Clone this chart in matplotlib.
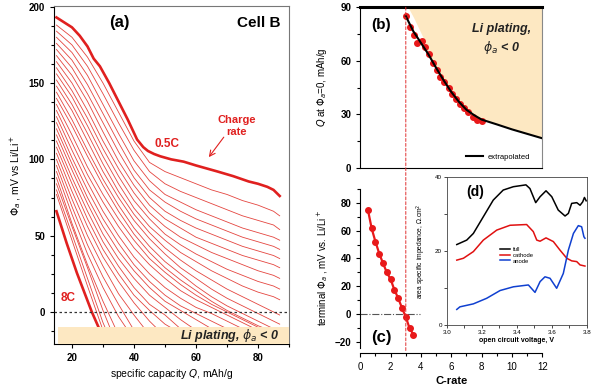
import matplotlib
matplotlib.use("Agg")
import matplotlib.pyplot as plt
from matplotlib.patches import ConnectionPatch
from matplotlib.ticker import MultipleLocator, FormatStrFormatter

plt.rcParams['font.family'] = ['Liberation Sans', 'DejaVu Sans']
plt.rcParams['mathtext.fontset'] = 'dejavusans'

RED = '#e0201f'
BEIGE = '#fde8c2'

# (a) anode potential vs specific capacity
# 0.5C (thick, top) and 8C (thick, bottom) read at their own points
q_top = [15, 20, 22.5, 25, 27, 29, 32, 35, 38, 41, 43, 44.5, 46.5, 48.5,
         52, 56, 60, 67, 72, 77, 80, 83, 85, 87]
phi_top = [193, 186.5, 181, 174, 166, 161, 150, 138, 126, 113, 108, 105.5, 103.5, 102,
           100, 98.5, 96, 92, 89, 85.5, 84, 82, 80, 76]
q_8c = [15, 18.3, 21.6, 26.4, 28.5, 30]
phi_8c = [66, 45, 25.5, 0, -9.7, -16]

# thin curves 0.75C ... 7.75C (step 0.25C) on a common capacity grid
q_grid = [15, 20, 25, 30, 35, 40, 45, 50, 55, 60, 65, 70, 75, 80, 85, 87]
phi_rows = [
    [188, 180, 167, 150, 131, 112, 98, 92, 88, 84, 80, 77, 73, 70, 66, 63],
    [184, 175, 161, 143, 124, 106, 92, 84, 79, 75, 71, 67, 63, 60, 57, 54],
    [180, 170, 155, 136, 117, 99, 86, 77, 72, 67, 63, 59, 55, 52, 49, 47],
    [176, 165, 149, 130, 111, 93, 80, 72, 66, 61, 57, 53, 49, 46, 43, 41],
    [172, 160, 143, 124, 105, 88, 75, 66, 60, 55, 51, 47, 43, 40, 37, 35],
    [168, 155, 138, 118, 99, 83, 70, 61, 55, 49, 45, 41, 37, 34, 31, 29],
    [164, 150, 132, 112, 94, 78, 65, 56, 49, 44, 39, 35, 31, 27, 24, 22],
    [160, 145, 127, 107, 89, 73, 61, 51, 44, 38, 33, 28, 24, 20, 17, 15],
    [156, 141, 122, 102, 84, 68, 56, 47, 39, 33, 27, 22, 17, 13, 10, 8],
    [152, 136, 117, 97, 79, 64, 52, 42, 34, 27, 21, 15, 10, 5, 0, -2],
    [148, 132, 112, 92, 75, 60, 48, 38, 29, 22, 15, 9, 4, -1, -6, -8],
    [144, 126, 106, 87, 70, 55, 43, 33, 25, 17, 10, 4, -1, -6, -11],
    [140, 122, 102, 83, 66, 51, 39, 29, 21, 14, 7, 1, -4, -9, -13],
    [136, 116, 95, 77, 61, 47, 35, 26, 18, 11, 5, 0, -5, -10, -14],
    [132, 111, 90, 72, 56, 42, 31, 22, 14, 8, 3, -2, -7, -12],
    [128, 106, 85, 66, 50, 36, 25, 16, 9, 3, -1, -6, -11],
    [124, 101, 80, 61, 45, 31, 20, 11, 4, -1, -6, -11],
    [120, 97, 75, 56, 40, 27, 16, 7, 1, -5, -11],
    [116, 93, 71, 51, 35, 22, 11, 3, -5, -12],
    [112, 88, 66, 46, 30, 16, 5, -2, -11],
    [108, 84, 61, 41, 25, 11, 1, -8, -14],
    [104, 79, 56, 36, 20, 6, -6, -16],
    [100, 74, 50, 30, 12, -2, -15],
    [96, 69, 44, 23, 5, -12],
    [92, 64, 38, 16, -3, -18],
    [88, 58, 31, 7, -15],
    [84, 56, 29, 1, -24],
    [80, 51, 22, -7, -30],
    [77, 47, 17, -12],
]

# (b) capacity at which the anode potential reaches zero
b_rate = [3.0, 3.27, 3.53, 3.77, 4.05, 4.27, 4.54, 4.78, 5.05, 5.27,
          5.55, 5.82, 6.07, 6.31, 6.55, 6.82, 7.1, 7.41, 7.7, 8.03]
b_q = [85, 79, 74.5, 70, 71, 68, 64, 59, 55, 51,
       48, 45, 41.5, 38.5, 36, 33.5, 31, 28.5, 27, 26]
fit_rate = [3.0, 3.5, 4.0, 4.5, 5.0, 5.5, 6.0, 6.5, 7.0, 7.5, 8.0, 9.0, 10.0, 11.0, 12.0]
fit_q = [85, 76.5, 70, 63.5, 56, 49, 42.5, 37, 32.5, 29.5, 27, 24.3, 21.5, 19, 16.5]
plate_rate = [3.15, 3.5, 4.2, 4.5, 5.0, 5.5, 6.0, 6.5, 7.0, 7.5, 8.0, 9.0, 10.0, 11.0, 12.0]
plate_q = [90, 84.5, 72, 63.5, 56, 49, 42.5, 37, 32.5, 29.5, 27, 24.3, 21.5, 19, 16.5]

# (c) terminal anode potential
c_rate = [0.5, 0.75, 1.0, 1.25, 1.5, 1.75, 2.0, 2.25, 2.5, 2.75, 3.0, 3.25, 3.5]
c_term = [75, 61.5, 52, 43.5, 36.5, 30, 25, 17.5, 11.5, 4.5, -2, -10, -14.5]

# (d) area specific impedance vs open circuit voltage
full_v = [3.056, 3.113, 3.151, 3.208, 3.265, 3.322, 3.38, 3.452, 3.475, 3.508, 3.533,
          3.567, 3.6, 3.637, 3.676, 3.695, 3.714, 3.743, 3.762, 3.777, 3.787, 3.797]
full_z = [21.7, 22.9, 24.7, 29.2, 33.7, 36.4, 37.3, 37.8, 36.8, 33.0, 34.6,
          36.2, 34.6, 31.0, 29.4, 30.1, 32.8, 33.0, 32.3, 33.2, 34.4, 33.5]
cath_v = [3.056, 3.094, 3.151, 3.208, 3.285, 3.361, 3.456, 3.494, 3.514, 3.533,
          3.567, 3.609, 3.647, 3.686, 3.714, 3.743, 3.762, 3.79]
cath_z = [17.5, 18.0, 19.8, 22.9, 25.6, 26.9, 27.1, 25.2, 22.9, 22.6,
          23.5, 22.5, 20.2, 18.0, 17.3, 17.1, 16.2, 15.9]
anode_v = [3.056, 3.074, 3.151, 3.227, 3.304, 3.38, 3.466, 3.504, 3.533, 3.561,
           3.59, 3.628, 3.666, 3.695, 3.724, 3.752, 3.771, 3.784, 3.79]
anode_z = [4.2, 4.9, 5.7, 7.2, 9.3, 10.3, 10.8, 8.8, 11.7, 13.0,
           12.6, 9.9, 13.9, 20.2, 24.7, 26.8, 26.5, 23.8, 23.4]

W, H = 592, 387
fig = plt.figure(figsize=(W / 100, H / 100), dpi=100)


def box(l, t, r, b):
    return [l / W, 1 - b / H, (r - l) / W, (b - t) / H]


tick_kw = dict(labelsize=7, width=0.8, length=3, direction='out')

# ---- panel (a)
ax = fig.add_axes(box(54, 6, 289, 344))
for row in phi_rows:
    ax.plot(q_grid[:len(row)], row, color='#e4453f', lw=0.6, zorder=2)
ax.plot(q_top, phi_top, color=RED, lw=1.9, zorder=2.2)
ax.plot(q_8c, phi_8c, color=RED, lw=1.9, zorder=2.2)
ax.axhline(0, color='#333333', ls=(0, (2, 2)), lw=0.9, zorder=2.5)
ax.fill_between([15.6, 90], [-21, -21], [-10, -10], color=BEIGE, lw=0, zorder=3)
ax.text(87, -15.5, r'Li plating, $\phi_a$ < 0', ha='right', va='center',
        fontsize=9, fontweight='bold', style='italic', color='#222222', zorder=4)
ax.set_xlim(14.2, 90)
ax.set_ylim(-21, 200.5)
ax.xaxis.set_major_locator(MultipleLocator(20))
ax.xaxis.set_minor_locator(MultipleLocator(10))
ax.yaxis.set_major_locator(MultipleLocator(50))
ax.yaxis.set_minor_locator(MultipleLocator(12.5))
ax.tick_params(which='both', **tick_kw)
ax.tick_params(which='minor', length=2)
for lab in ax.get_xticklabels() + ax.get_yticklabels():
    lab.set_fontweight('bold')
for s in ('top', 'right'):
    ax.spines[s].set_color('#777777')
ax.set_xlabel('specific capacity $Q$, mAh/g', fontsize=7.5, labelpad=3)
ax.set_ylabel(r'$\Phi_a$ , mV vs Li/Li$^+$', fontsize=7.5, labelpad=4)
ax.text(0.28, 0.95, '(a)', transform=ax.transAxes, fontsize=12, fontweight='bold',
        ha='center', va='center')
ax.text(0.87, 0.95, 'Cell B', transform=ax.transAxes, fontsize=11, fontweight='bold',
        ha='center', va='center')
ax.text(73, 122, 'Charge\nrate', color=RED, fontsize=8, fontweight='bold',
        ha='center', va='center', linespacing=1.2)
ax.annotate('', xy=(63.6, 100), xytext=(69.5, 116),
            arrowprops=dict(arrowstyle='->', color=RED, lw=0.8))
ax.text(50.7, 110, '0.5C', color=RED, fontsize=8.5, fontweight='bold',
        ha='center', va='center')
ax.text(18.8, 9, '8C', color=RED, fontsize=8.5, fontweight='bold',
        ha='center', va='center')

# ---- panel (b)
axb = fig.add_axes(box(360.3, 7.3, 542.3, 167.7))
axb.fill_between(plate_rate, plate_q, [90] * len(plate_q), color=BEIGE, lw=0, zorder=1)
axb.plot(fit_rate, fit_q, color='black', lw=1.5, zorder=3, label='extrapolated')
axb.plot(b_rate, b_q, 'o', color='#e8191a', ms=4, zorder=2)
axb.set_xlim(0, 12)
axb.set_ylim(0, 90)
axb.yaxis.set_major_locator(MultipleLocator(30))
axb.yaxis.set_minor_locator(MultipleLocator(15))
axb.set_xticks([])
axb.tick_params(which='both', **tick_kw)
axb.tick_params(which='minor', length=2)
for lab in axb.get_yticklabels():
    lab.set_fontweight('bold')
axb.spines['top'].set_linewidth(2.2)
axb.spines['right'].set_color('#888888')
axb.set_ylabel(r'$Q$ at $\Phi_a$=0, mAh/g', fontsize=7, labelpad=8)
axb.text(1.4, 80, '(b)', fontsize=11, fontweight='bold', ha='center', va='center')
axb.text(9.3, 72, 'Li plating,\n' + r'$\phi_a$ < 0', fontsize=9, fontweight='bold',
         style='italic', color='#222222', ha='center', va='center', linespacing=1.3)
axb.legend(loc='lower right', bbox_to_anchor=(0.97, 0.0), frameon=False, fontsize=5.5,
           handlelength=2.2, handletextpad=0.6)

# ---- panel (c)
axc = fig.add_axes(box(360.3, 188.7, 542.3, 347.8))
axc.plot([0, 3.95], [0, 0], color='#555555', ls='-.', lw=0.8)
axc.plot(c_rate, c_term, '-o', color='#e8191a', lw=1.6, ms=4)
axc.set_xlim(0, 12)
axc.set_ylim(-24, 90)
axc.xaxis.set_major_locator(MultipleLocator(2))
axc.xaxis.set_minor_locator(MultipleLocator(1))
axc.yaxis.set_minor_locator(MultipleLocator(10))
axc.set_yticks([-20, 0, 20, 40, 60, 80])
axc.tick_params(which='both', **tick_kw)
axc.tick_params(which='minor', length=2)
for lab in axc.get_xticklabels() + axc.get_yticklabels():
    lab.set_fontweight('bold')
axc.spines['top'].set_visible(False)
axc.spines['right'].set_visible(False)
axc.spines['bottom'].set_position(('outward', 3.5))
axc.set_xlabel('C-rate', fontsize=8, fontweight='bold', labelpad=3)
axc.set_ylabel(r'terminal $\Phi_a$ , mV vs. Li/Li$^+$', fontsize=7, labelpad=3)
axc.text(1.4, -16.5, '(c)', fontsize=12, fontweight='bold', ha='center', va='center')

# red dashed C=3 guide through (b) and (c)
guide = ConnectionPatch(xyA=(3, 90), coordsA=axb.transData, xyB=(3, -26.5),
                        coordsB=axc.transData, color='#e03030', lw=0.7, ls=(0, (3, 2)))
fig.add_artist(guide)

# ---- panel (d) inset
axd = fig.add_axes(box(447, 176.7, 586.7, 325))
axd.plot(full_v, full_z, color='black', lw=1.1, label='full')
axd.plot(cath_v, cath_z, color='#e01010', lw=1.1, label='cathode')
axd.plot(anode_v, anode_z, color='#1040d0', lw=1.1, label='anode')
axd.set_xlim(3.0, 3.8)
axd.set_ylim(0, 40)
axd.xaxis.set_major_locator(MultipleLocator(0.2))
axd.xaxis.set_minor_locator(MultipleLocator(0.1))
axd.yaxis.set_major_locator(MultipleLocator(20))
axd.yaxis.set_minor_locator(MultipleLocator(10))
axd.tick_params(which='both', labelsize=4.5, width=0.5, length=2, pad=1.5)
axd.xaxis.set_major_formatter(FormatStrFormatter('%.1f'))
for s in axd.spines.values():
    s.set_linewidth(0.6)
    s.set_color('#444444')
axd.set_xlabel('open circuit voltage, V', fontsize=5, fontweight='bold', labelpad=1.5)
axd.set_ylabel(r'area specific impedance, $\Omega$.cm$^2$', fontsize=4.8, labelpad=5)
axd.text(0.2, 0.9, '(d)', transform=axd.transAxes, fontsize=10, fontweight='bold',
         ha='center', va='center')
axd.legend(loc='center', bbox_to_anchor=(0.5, 0.47), frameon=False, fontsize=4.2,
           handlelength=1.6, handletextpad=0.5, labelspacing=0.1)

fig.savefig('out.png', dpi=100)
